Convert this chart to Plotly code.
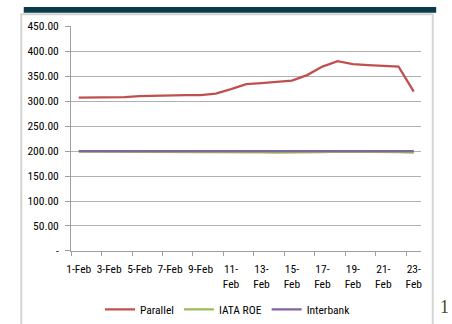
import plotly.graph_objects as go

dates = ["1-Feb", "2-Feb", "3-Feb", "4-Feb", "5-Feb", "6-Feb", "7-Feb", "8-Feb",
         "9-Feb", "10-Feb", "11-Feb", "12-Feb", "13-Feb", "14-Feb", "15-Feb",
         "16-Feb", "17-Feb", "18-Feb", "19-Feb", "20-Feb", "21-Feb", "22-Feb", "23-Feb"]
parallel = [307, 307, 307, 308, 310, 311, 311, 312, 312, 315, 324, 334, 336, 338,
            341, 352, 369, 380, 374, 372, 371, 369, 319]
iata_roe = [199, 199, 199, 199, 199, 199, 199, 199, 199, 199, 199, 198.5, 197.5, 197,
            197, 197, 198, 199, 199, 199, 199, 198, 197]
interbank = [200] * 23
y_tick_vals = [0, 50, 100, 150, 200, 250, 300, 350, 400, 450]
y_tick_text = ["-", "50.00", "100.00", "150.00", "200.00", "250.00", "300.00",
               "350.00", "400.00", "450.00"]

x_idx = list(range(len(dates)))
label_idx = x_idx[::2]
label_text = [d if int(d.split("-")[0]) < 10 else d.replace("-", "-<br>") for d in dates[::2]]
tick_bounds = [i - 0.5 for i in label_idx]

FONT = "Liberation Sans Narrow, Arial Narrow, Roboto Condensed, Liberation Sans, sans-serif"
FS = 11.5

fig = go.Figure()
fig.add_trace(go.Scatter(x=x_idx, y=parallel, mode="lines", name="Parallel",
                         line=dict(color="#C0504D", width=2.25)))
fig.add_trace(go.Scatter(x=x_idx, y=iata_roe, mode="lines", name="IATA ROE",
                         line=dict(color="#9BBB59", width=2.25)))
fig.add_trace(go.Scatter(x=x_idx, y=interbank, mode="lines", name="Interbank",
                         line=dict(color="#8064A2", width=2.25)))
# invisible trace to activate the tick-mark axis
fig.add_trace(go.Scatter(x=[x_idx[0]], y=[None], xaxis="x2", showlegend=False,
                         hoverinfo="skip", mode="lines"))

W, H = 452, 324
dom_x = [67 / W, 422 / W]
dom_y = [1 - 255 / H, 1 - 20 / H]

fig.update_layout(
    width=W, height=H,
    margin=dict(l=0, r=0, t=0, b=0),
    paper_bgcolor="white", plot_bgcolor="white",
    font=dict(family=FONT, size=FS, color="#000000"),
    showlegend=True,
    legend=dict(orientation="h", x=0.5, xanchor="center", y=1 - 316 / H, yanchor="middle",
                font=dict(family=FONT, size=FS), itemwidth=30, tracegroupgap=0,
                bgcolor="rgba(0,0,0,0)"),
    xaxis=dict(domain=dom_x, range=[-0.5, len(dates) - 0.5], tickmode="array",
               tickvals=label_idx, ticktext=label_text, ticks="", showgrid=False,
               zeroline=False, showline=True, linecolor="#A0A0A0", linewidth=1,
               tickfont=dict(family=FONT, size=FS), anchor="y", fixedrange=True,
               ticklabelstandoff=7),
    xaxis2=dict(domain=dom_x, range=[-0.5, len(dates) - 0.5], overlaying="x",
                anchor="y", side="bottom", tickmode="array", tickvals=tick_bounds,
                showticklabels=False, ticks="outside", ticklen=4, tickcolor="#A0A0A0",
                showgrid=False, zeroline=False, showline=False),
    yaxis=dict(domain=dom_y, range=[0, 450], tickmode="array", tickvals=y_tick_vals,
               ticktext=y_tick_text, ticks="outside", ticklen=5, tickcolor="#A0A0A0",
               showgrid=True, gridcolor="#B0B0B0", gridwidth=1, zeroline=False,
               showline=True, linecolor="#A0A0A0", linewidth=1,
               tickfont=dict(family=FONT, size=FS), ticklabelstandoff=4),
    shapes=[
        dict(type="rect", xref="paper", yref="paper", x0=19 / W, x1=437 / W,
             y0=1 - 6 / H, y1=1, fillcolor="#0B3B4A", line=dict(width=0), layer="above"),
        dict(type="rect", xref="paper", yref="paper", x0=16.5 / W, x1=433.5 / W,
             y0=-0.05, y1=1 - 7.5 / H, fillcolor="rgba(0,0,0,0)",
             line=dict(color="#D4D4D4", width=2), layer="below"),
    ],
    annotations=[
        dict(text="1", xref="paper", yref="paper", x=1, y=1 - 314 / H,
             xanchor="right", yanchor="middle", showarrow=False,
             font=dict(family="Liberation Serif, DejaVu Serif, serif", size=18,
                       color="#4A4A1C")),
    ],
)

fig.write_html("out.html")
